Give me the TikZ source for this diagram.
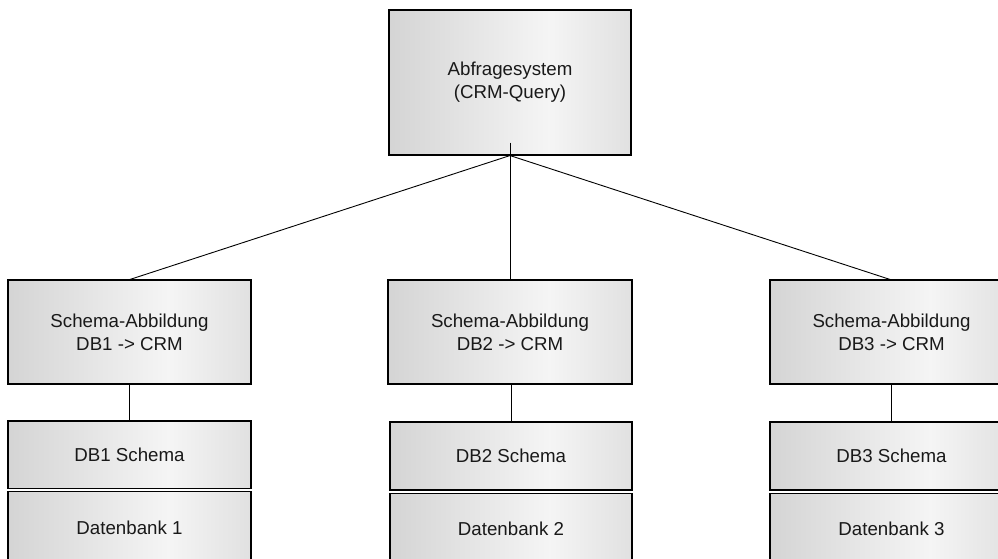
\documentclass[tikz,border=0pt]{standalone}
\usepackage{fontspec}
\setmainfont{Liberation Sans}
\definecolor{edgeL}{gray}{0.64}
\definecolor{bandL}{gray}{0.79}
\definecolor{midC}{gray}{0.96}
\definecolor{bandR}{gray}{0.83}
\definecolor{edgeR}{gray}{0.70}
\pgfdeclarehorizontalshading{boxshade}{100bp}{color(0bp)=(edgeL); color(4bp)=(edgeL!70!bandL); color(14bp)=(bandL); color(58bp)=(midC); color(86bp)=(bandR); color(100bp)=(edgeR)}
\begin{document}
\begin{tikzpicture}[x=1pt,y=-1pt,
  gbox/.style={draw=black, line width=1.1pt, shading=boxshade, inner sep=0pt, align=center,
    font=\fontsize{18.7}{23}\selectfont, text=black!90},
  conn/.style={draw=black, line width=0.9pt}]
\useasboundingbox (0,0) rectangle (998,559);
\clip (0,0) rectangle (998,559);
\fill[white] (0,0) rectangle (998,559);
% top
\node[gbox, minimum width=242pt, minimum height=145pt] (top) at (510,82.5) {Abfragesystem\\(CRM-Query)};
% mapping boxes
\node[gbox, minimum width=243pt, minimum height=104pt] (m1) at (129.5,332) {Schema-Abbildung\\DB1 -> CRM};
\node[gbox, minimum width=244pt, minimum height=104pt] (m2) at (510,332) {Schema-Abbildung\\DB2 -> CRM};
\node[gbox, minimum width=243pt, minimum height=104pt] (m3) at (891.5,332) {Schema-Abbildung\\DB3 -> CRM};
% schema boxes
\node[gbox, minimum width=243pt, minimum height=67.5pt] (s1) at (129.5,454.75) {DB1 Schema};
\node[gbox, minimum width=242pt, minimum height=68pt] (s2) at (511,456) {DB2 Schema};
\node[gbox, minimum width=243pt, minimum height=68pt] (s3) at (891.5,456) {DB3 Schema};
% database boxes
\node[gbox, minimum width=243pt, minimum height=72pt] (d1) at (129.5,527.5) {Datenbank 1};
\node[gbox, minimum width=242pt, minimum height=70pt] (d2) at (511,528.5) {Datenbank 2};
\node[gbox, minimum width=243pt, minimum height=70pt] (d3) at (891.5,528.5) {Datenbank 3};
% connectors
\coordinate (J) at (top.south);
\coordinate (Jt) at ([yshift=13pt]top.south);
\draw[conn] (J) -- ([xshift=0.5pt]m1.north);
\draw[conn] (J) -- ([xshift=-1.5pt]m3.north);
\draw[conn] (Jt) -- (m2.north);
\draw[conn] (m1.south) -- (s1.north);
\draw[conn] ([xshift=1pt]m2.south) -- (s2.north);
\draw[conn] (m3.south) -- (s3.north);
\end{tikzpicture}
\end{document}
